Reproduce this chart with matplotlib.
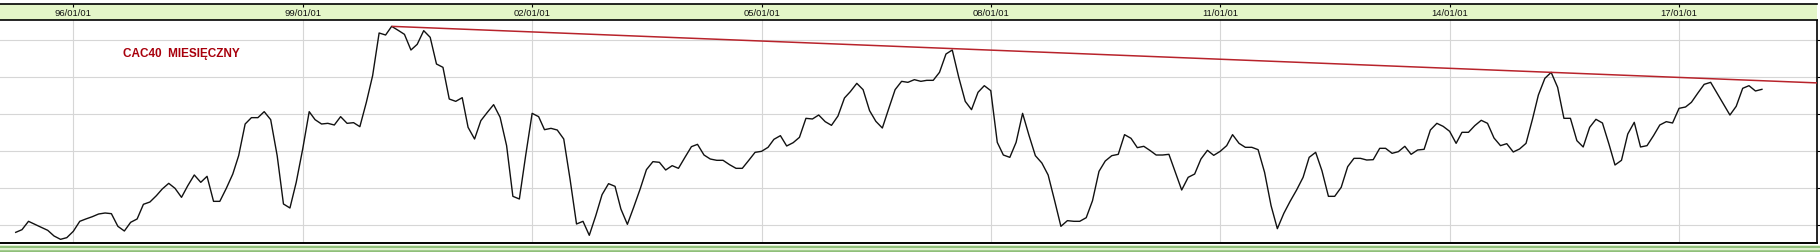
import datetime as dt
import matplotlib
matplotlib.use("Agg")
import matplotlib.pyplot as plt
import matplotlib.dates as mdates
import matplotlib.transforms as mtransforms
import pandas as pd

# ---------------- data ----------------
start_month = "1995-04-01"
cac40_values = [
    811, 883, 1108, 1027, 946, 865, 713, 623, 668,
    838, 1108, 1171, 1233, 1305, 1332, 1314, 973, 847, 1081, 1171, 1566,
    1628, 1799, 1979, 2131, 1996, 1754, 2068, 2356, 2158, 2320, 1646, 1646,
    1996, 2382, 2876, 3729, 3900, 3900, 4061, 3846, 2876, 1575, 1467, 2158,
    3056, 4061, 3846, 3729, 3747, 3702, 3927, 3747, 3765, 3657, 4313, 5031,
    6180, 6126, 6359, 6252, 6144, 5722, 5875, 6243, 6063, 5345, 5255, 4402,
    4339, 4438, 3639, 3325, 3819, 4043, 4250, 3909, 3146, 1781, 1709, 2876,
    4016, 3927, 3576, 3612, 3567, 3325, 2248, 1036, 1108, 731, 1260, 1826,
    2122, 2050, 1440, 1027, 1485, 1978, 2499, 2715, 2697, 2490, 2607, 2535,
    2831, 3119, 3181, 2894, 2786, 2751, 2751, 2634, 2535, 2535, 2751, 2966,
    2993, 3101, 3316, 3415, 3137, 3226, 3370, 3882, 3864, 3971, 3792, 3693,
    3944, 4429, 4600, 4824, 4654, 4088, 3801, 3621, 4151, 4654, 4878, 4851,
    4923, 4878, 4905, 4905, 5120, 5614, 5722, 4986, 4339, 4115, 4582, 4761,
    4627, 3235, 2894, 2831, 3235, 4016, 3433, 2876, 2679, 2356, 1664, 973,
    1126, 1108, 1108, 1206, 1664, 2454, 2733, 2876, 2912, 3442, 3343, 3092,
    3128, 3011, 2894, 2894, 2912, 2427, 1952, 2293, 2382, 2786, 3020, 2885,
    2993, 3146, 3442, 3208, 3101, 3101, 3038, 2427, 1530, 910, 1323, 1646,
    1952, 2293, 2831, 2966, 2472, 1781, 1781, 2023, 2580, 2804, 2804, 2759,
    2768, 3074, 3074, 2939, 2984, 3128, 2912, 3029, 3047, 3567, 3747, 3666,
    3532, 3208, 3505, 3505, 3684, 3828, 3747, 3352, 3146, 3199, 2975, 3056,
    3208, 3864, 4510, 4959, 5120, 4716, 3882, 3882, 3280, 3110, 3639, 3855,
    3756, 3190, 2625, 2751, 3460, 3774, 3110, 3146, 3415, 3702, 3792, 3756,
    4151, 4187, 4313, 4564, 4797, 4851, 4564, 4268, 3971, 4205, 4690, 4761,
    4618, 4663,
]
trend_dates = ["2000-03-01", "2015-05-01"]
trend_values = [6359, 5120]
tick_dates = ["1996-01-01", "1999-01-01", "2002-01-01", "2005-01-01",
              "2008-01-01", "2011-01-01", "2014-01-01", "2017-01-01"]
tick_labels = ["96/01/01", "99/01/01", "02/01/01", "05/01/01",
               "08/01/01", "11/01/01", "14/01/01", "17/01/01"]
grid_levels = [1000, 2000, 3000, 4000, 5000, 6000]
title_text = "CAC40  MIESIĘCZNY"

# ---------------- figure ----------------
W, H, DPI = 1820, 253, 100
fig = plt.figure(figsize=(W / DPI, H / DPI), dpi=DPI, facecolor="white")

def px_axes(x0, y_top, x1, y_bot):
    return [x0 / W, 1 - y_bot / H, (x1 - x0) / W, (y_bot - y_top) / H]

ax = fig.add_axes(px_axes(0, 21, 1817, 244))
band = fig.add_axes(px_axes(0, 5, 1817, 21), sharex=ax)
bottom = fig.add_axes(px_axes(0, 245.5, 1820, 253))

dates = pd.date_range(start_month, periods=len(cac40_values), freq="MS")
xnum = mdates.date2num(dates)

ref = mdates.date2num(dt.datetime(1996, 1, 1))
ax.set_xlim(ref - 350.1, ref + 8330)
ax.set_ylim(524, 6530)

# grid
for lv in grid_levels:
    ax.axhline(lv, color="#d6d6d6", lw=0.8, zorder=0)
tnum = mdates.date2num(pd.to_datetime(tick_dates))
for t in tnum:
    ax.axvline(t, color="#d6d6d6", lw=0.8, zorder=0)

# data line
ax.plot(xnum, cac40_values, color="#111111", lw=1.0, zorder=3)

# trend line (resistance)
tx = mdates.date2num(pd.to_datetime(trend_dates))
slope = (trend_values[1] - trend_values[0]) / (tx[1] - tx[0])
x_end = ax.get_xlim()[1] + 20
ax.plot([tx[0], x_end], [trend_values[0], trend_values[0] + slope * (x_end - tx[0])],
        color="#b8232b", lw=1.1, zorder=4, solid_capstyle="butt")

ax.text(0.0677, 0.852, title_text, transform=ax.transAxes, ha="left", va="center",
        fontsize=8.5, fontweight="bold", color="#a8000c",
        family=["Liberation Sans", "DejaVu Sans"])

# spines / ticks of main axes
ax.spines["left"].set_visible(False)
ax.spines["top"].set_visible(False)
ax.spines["right"].set_linewidth(1.2)
ax.spines["bottom"].set_linewidth(1.4)
ax.spines["right"].set_color("black")
ax.yaxis.tick_right()
ax.set_yticks(grid_levels)
ax.tick_params(axis="y", right=True, left=False, labelright=False, length=2.5,
               width=0.8, direction="out")
ax.tick_params(axis="x", bottom=False, labelbottom=False)

# top band with date labels
band.set_facecolor("#e4f6c8")
band.set_ylim(0, 1)
band.set_yticks([])
for s in ("left", "right"):
    band.spines[s].set_visible(False)
band.spines["top"].set_linewidth(1.2)
band.spines["bottom"].set_linewidth(1.2)
band.set_xticks(tnum)
band.tick_params(axis="x", top=True, bottom=False, labeltop=False, labelbottom=False,
                 direction="in", length=2.5, width=0.8)
trans = mtransforms.blended_transform_factory(band.transData, band.transAxes)
for t, lab in zip(tnum, tick_labels):
    band.text(t, 0.44, lab, transform=trans, ha="center", va="center",
              fontsize=6.8, color="#111111", family=["Liberation Sans", "DejaVu Sans"])

# bottom decorative green stripes
bottom.set_facecolor("#dff0d0")
bottom.set_xlim(0, 1)
bottom.set_ylim(0, 1)
bottom.axhline(0.62, color="#8fbf7a", lw=1.4)
bottom.axhline(0.12, color="#8fbf7a", lw=1.8)
bottom.set_xticks([])
bottom.set_yticks([])
for s in bottom.spines.values():
    s.set_visible(False)

fig.savefig("out.png", dpi=DPI, facecolor="white")
